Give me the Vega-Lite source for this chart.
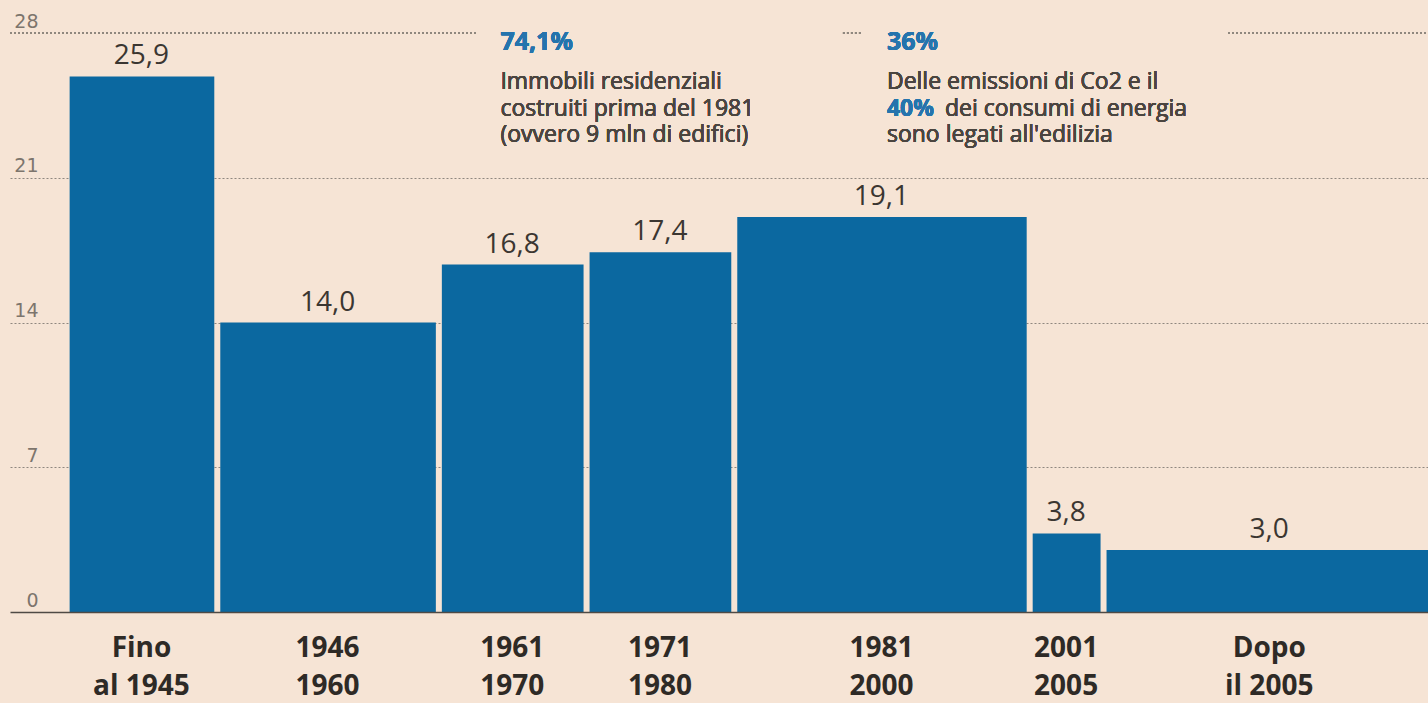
{
  "$schema": "https://vega.github.io/schema/vega-lite/v6.json",
  "width": 1418,
  "height": 579,
  "autosize": {"type": "none"},
  "padding": {"left": 10, "top": 33, "right": 0, "bottom": 91},
  "background": "#f6e4d5",
  "config": {
    "view": {"stroke": null},
    "font": "Open Sans",
    "locale": {"number": {"decimal": ",", "thousands": ".", "grouping": [3], "currency": ["", " €"]}}
  },
  "data": {
    "values": [
      {"periodo": "Fino\nal 1945", "inizio": 1935.3, "fine": 1945.5, "quota": 25.9},
      {"periodo": "1946\n1960", "inizio": 1945.5, "fine": 1960.5, "quota": 14.0},
      {"periodo": "1961\n1970", "inizio": 1960.5, "fine": 1970.5, "quota": 16.8},
      {"periodo": "1971\n1980", "inizio": 1970.5, "fine": 1980.5, "quota": 17.4},
      {"periodo": "1981\n2000", "inizio": 1980.5, "fine": 2000.5, "quota": 19.1},
      {"periodo": "2001\n2005", "inizio": 2000.5, "fine": 2005.5, "quota": 3.8},
      {"periodo": "Dopo\nil 2005", "inizio": 2005.5, "fine": 2028, "quota": 3.0}
    ]
  },
  "layer": [
    {
      "mark": {"type": "bar", "color": "#0b68a0", "binSpacing": 6},
      "encoding": {
        "x": {
          "field": "inizio", "type": "quantitative", "bin": "binned",
          "scale": {"domain": [1931.5, 2027.5], "nice": false, "zero": false},
          "axis": {"domain": true, "domainColor": "#4f4a45", "domainWidth": 1.5, "labels": false, "ticks": false, "grid": false, "title": null, "zindex": 1}
        },
        "x2": {"field": "fine"},
        "y": {
          "field": "quota", "type": "quantitative",
          "scale": {"domain": [0, 28], "nice": false},
          "axis": {
            "values": [0, 7, 14, 21, 28],
            "grid": true,
            "gridOpacity": {"condition": {"test": "datum.value === 0 || datum.value === 28", "value": 0}, "value": 1},
            "gridColor": "#8f877f", "gridDash": [2, 2], "gridWidth": 1,
            "domain": false, "ticks": false,
            "labelAlign": "right", "labelPadding": -28, "labelBaseline": "alphabetic", "labelOffset": -6,
            "labelFont": "DejaVu Sans", "labelFontSize": 19, "labelColor": "#7d756d",
            "title": null, "zindex": 0
          }
        }
      }
    },
    {
      "mark": {"type": "rule", "color": "#8f877f", "strokeDash": [2, 2], "strokeWidth": 1},
      "encoding": {"x": {"datum": 1931.5}, "x2": {"datum": 1963.12}, "y": {"datum": 28}}
    },
    {
      "mark": {"type": "rule", "color": "#8f877f", "strokeDash": [2, 2], "strokeWidth": 1},
      "encoding": {"x": {"datum": 1987.89}, "x2": {"datum": 1989.18}, "y": {"datum": 28}}
    },
    {
      "mark": {"type": "rule", "color": "#8f877f", "strokeDash": [2, 2], "strokeWidth": 1},
      "encoding": {"x": {"datum": 2013.96}, "x2": {"datum": 2027.5}, "y": {"datum": 28}}
    },
    {
      "transform": [{"calculate": "(datum.inizio + datum.fine) / 2", "as": "centro"}],
      "mark": {"type": "text", "fontSize": 28, "color": "#3b3631", "dy": -12, "baseline": "alphabetic", "align": "center"},
      "encoding": {
        "x": {"field": "centro", "type": "quantitative"},
        "y": {"field": "quota", "type": "quantitative"},
        "text": {"field": "quota", "type": "quantitative", "format": ".1f"}
      }
    },
    {
      "transform": [{"calculate": "(datum.inizio + datum.fine) / 2", "as": "centro"}],
      "mark": {"type": "text", "fontSize": 28, "fontWeight": "bold", "color": "#2e2a26", "dy": 45, "baseline": "alphabetic", "align": "center", "lineBreak": "\n", "lineHeight": 38},
      "encoding": {
        "x": {"field": "centro", "type": "quantitative"},
        "y": {"datum": 0},
        "text": {"field": "periodo", "type": "nominal"}
      }
    },
    {
      "mark": {"type": "text", "fontSize": 25, "fontWeight": "bold", "color": "#2574ad", "dy": 17, "baseline": "alphabetic", "align": "left"},
      "encoding": {"x": {"datum": 1964.7}, "y": {"datum": 28}, "text": {"value": "74,1%"}}
    },
    {
      "mark": {"type": "text", "fontSize": 23, "color": "#4b4540", "dy": 56, "baseline": "alphabetic", "align": "left"},
      "encoding": {"x": {"datum": 1964.7}, "y": {"datum": 28}, "text": {"value": "Immobili residenziali"}}
    },
    {
      "mark": {"type": "text", "fontSize": 23, "color": "#4b4540", "dy": 82.5, "baseline": "alphabetic", "align": "left"},
      "encoding": {"x": {"datum": 1964.7}, "y": {"datum": 28}, "text": {"value": "costruiti prima del 1981"}}
    },
    {
      "mark": {"type": "text", "fontSize": 23, "color": "#4b4540", "dy": 109, "baseline": "alphabetic", "align": "left"},
      "encoding": {"x": {"datum": 1964.7}, "y": {"datum": 28}, "text": {"value": "(ovvero 9 mln di edifici)"}}
    },
    {
      "mark": {"type": "text", "fontSize": 25, "fontWeight": "bold", "color": "#2574ad", "dy": 17, "baseline": "alphabetic", "align": "left"},
      "encoding": {"x": {"datum": 1990.87}, "y": {"datum": 28}, "text": {"value": "36%"}}
    },
    {
      "mark": {"type": "text", "fontSize": 23, "color": "#4b4540", "dy": 56, "baseline": "alphabetic", "align": "left"},
      "encoding": {"x": {"datum": 1990.87}, "y": {"datum": 28}, "text": {"value": "Delle emissioni di Co2 e il"}}
    },
    {
      "mark": {"type": "text", "fontSize": 23, "fontWeight": "bold", "color": "#2574ad", "dy": 82.5, "baseline": "alphabetic", "align": "left"},
      "encoding": {"x": {"datum": 1990.87}, "y": {"datum": 28}, "text": {"value": "40%"}}
    },
    {
      "mark": {"type": "text", "fontSize": 23, "color": "#4b4540", "dy": 82.5, "baseline": "alphabetic", "align": "left"},
      "encoding": {"x": {"datum": 1994.8}, "y": {"datum": 28}, "text": {"value": "dei consumi di energia"}}
    },
    {
      "mark": {"type": "text", "fontSize": 23, "color": "#4b4540", "dy": 109, "baseline": "alphabetic", "align": "left"},
      "encoding": {"x": {"datum": 1990.87}, "y": {"datum": 28}, "text": {"value": "sono legati all'edilizia"}}
    }
  ]
}
